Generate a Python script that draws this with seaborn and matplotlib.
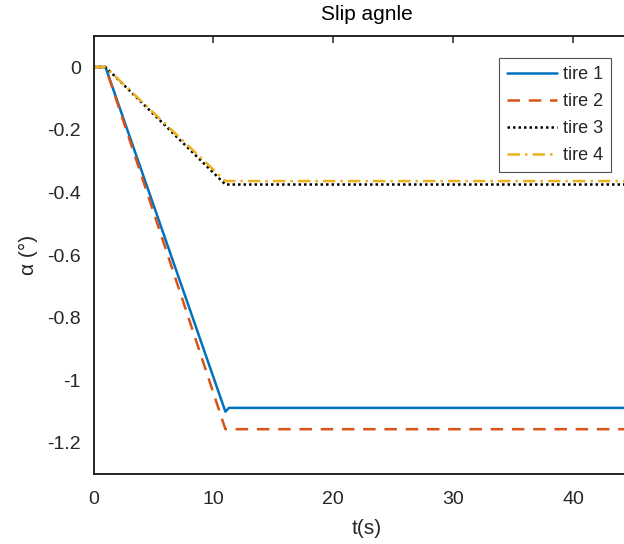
import numpy as np
import pandas as pd
import matplotlib
matplotlib.use("Agg")
import matplotlib.pyplot as plt
import seaborn as sns

# Time breakpoints (s) and slip angle values (deg) for each tire
t_tire1 = [0, 1, 11, 11.3, 48]
a_tire1 = [0, 0, -1.100, -1.088, -1.088]
t_tire2 = [0, 1, 11, 48]
a_tire2 = [0, 0, -1.156, -1.156]
t_tire3 = [0, 1, 11, 48]
a_tire3 = [0, 0, -0.375, -0.375]
t_tire4 = [0, 1, 11, 48]
a_tire4 = [0, 0, -0.364, -0.364]

labels = ["tire 1", "tire 2", "tire 3", "tire 4"]
colors = ["#0072BD", "#D95319", "#000000", "#EDB120"]
x_ticks = [0, 10, 20, 30, 40]
y_ticks = [0, -0.2, -0.4, -0.6, -0.8, -1, -1.2]
y_tick_labels = ["0", "-0.2", "-0.4", "-0.6", "-0.8", "-1", "-1.2"]

frames = []
for name, t, a in zip(labels, [t_tire1, t_tire2, t_tire3, t_tire4],
                      [a_tire1, a_tire2, a_tire3, a_tire4]):
    frames.append(pd.DataFrame({"t": t, "alpha": a, "tire": name}))
df = pd.concat(frames, ignore_index=True)

sns.set_style("white")
plt.rcParams["font.family"] = ["Liberation Sans", "DejaVu Sans"]

fig = plt.figure(figsize=(6.24, 5.44), dpi=100)
ax = fig.add_axes([93.5 / 624, 1 - 474.3 / 544, (640 - 93.5) / 624, (474.3 - 35.7) / 544])

dashes = {"tire 1": "", "tire 2": (5, 3.5), "tire 3": (1, 1.2), "tire 4": (5, 2, 1, 2)}
sns.lineplot(data=df, x="t", y="alpha", hue="tire", style="tire",
             palette=dict(zip(labels, colors)), dashes=dashes,
             linewidth=1.8, ax=ax, sort=False, estimator=None)

ax.set_xlim(0, 546.5 / 11.99)
ax.set_ylim(-1.3, 0.1)
ax.set_xticks(x_ticks)
ax.set_xticklabels([str(v) for v in x_ticks])
ax.set_yticks(y_ticks)
ax.set_yticklabels(y_tick_labels)

for side in ["left", "bottom", "top"]:
    ax.spines[side].set_color("#262626")
    ax.spines[side].set_linewidth(1.4)
ax.spines["right"].set_visible(False)
ax.tick_params(direction="in", length=5, width=1.1, color="#262626",
               labelsize=14, labelcolor="#262626", top=True, right=False, pad=9)
ax.tick_params(axis="x", pad=12)

ax.set_title("Slip agnle", fontsize=15, color="#000000", pad=11)
ax.set_xlabel("t(s)", fontsize=15, color="#262626", labelpad=8)
ax.set_ylabel("α (°)", fontsize=15, color="#262626", labelpad=7)

leg = ax.legend(loc="upper right", bbox_to_anchor=(611 / 624, 1 - 58 / 544),
                bbox_transform=fig.transFigure, fontsize=13, frameon=True,
                fancybox=False, handlelength=2.8, handletextpad=0.3,
                borderpad=0.45, labelspacing=0.55, borderaxespad=0)
leg.get_frame().set_edgecolor("#262626")
leg.get_frame().set_linewidth(0.8)
leg.set_title(None)

fig.savefig("out.png", dpi=100, facecolor="white")
